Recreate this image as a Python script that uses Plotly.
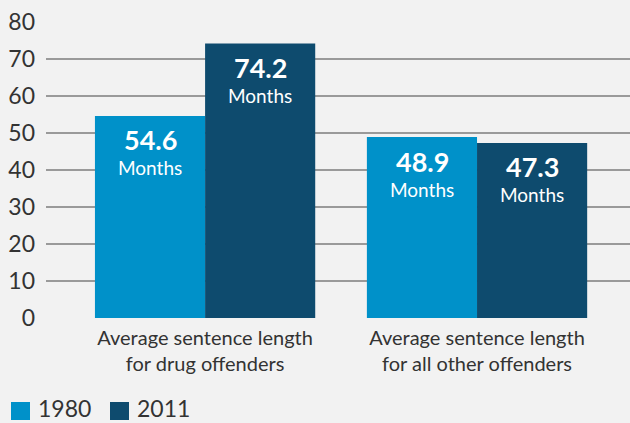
import plotly.graph_objects as go

categories = ["Average sentence length<br>for drug offenders",
              "Average sentence length<br>for all other offenders"]
years = ["1980", "2011"]
values_1980 = [54.6, 48.9]
values_2011 = [74.2, 47.3]
y_ticks = [0, 10, 20, 30, 40, 50, 60, 70, 80]

colors = {"1980": "#0091c9", "2011": "#0e4b6e"}
series = {"1980": values_1980, "2011": values_2011}

W, H = 630, 423
ML, MR, MT, MB = 46, 0, 22, 105
PW, PH = W - ML - MR, H - MT - MB


def px_x(p):
    return (p - ML) / PW


def px_y(p):
    return (H - MB - p) / PH


fig = go.Figure()
for yr in years:
    fig.add_trace(go.Bar(x=categories, y=series[yr], marker_color=colors[yr],
                         marker_line_width=0, showlegend=False, name=yr))

font_main = "Lato, 'Open Sans', sans-serif"
half_bar = 55
for i, yr in enumerate(years):
    shift = -half_bar if i == 0 else half_bar
    for cat, v in zip(categories, series[yr]):
        fig.add_annotation(x=cat, y=v, xref="x", yref="y", text=f"<b>{v}</b>",
                           showarrow=False, xshift=shift, yshift=-24, yanchor="middle",
                           borderpad=0,
                           font=dict(family=font_main, size=27, color="white"))
        fig.add_annotation(x=cat, y=v, xref="x", yref="y", text="Months",
                           showarrow=False, xshift=shift, yshift=-52, yanchor="middle",
                           borderpad=0,
                           font=dict(family=font_main, size=19, color="white"))

# legend (drawn manually for larger swatches)
legend_pos = {"1980": 11, "2011": 110}
for yr in years:
    x0 = legend_pos[yr]
    fig.add_shape(type="rect", xref="paper", yref="paper",
                  x0=px_x(x0), x1=px_x(x0 + 19), y0=px_y(420), y1=px_y(402),
                  fillcolor=colors[yr], line_width=0)
    fig.add_annotation(xref="paper", yref="paper", x=px_x(x0 + 26), y=px_y(423),
                       xanchor="left", yanchor="bottom", showarrow=False, text=yr,
                       borderpad=0,
                       font=dict(family=font_main, size=23, color="#333333"))

fig.update_layout(
    width=W, height=H,
    barmode="group", bargap=0.19, bargroupgap=0,
    paper_bgcolor="#f2f2f2", plot_bgcolor="#f2f2f2",
    margin=dict(l=ML, r=MR, t=MT, b=MB),
    font=dict(family=font_main, color="#333333"),
    showlegend=False,
    xaxis=dict(range=[-0.585, 1.5625], showgrid=False, zeroline=False, showline=False,
               ticks="", tickfont=dict(size=20, color="#333333"), ticklabelstandoff=6),
    yaxis=dict(range=[0, 80], tickvals=y_ticks, showgrid=True, gridcolor="#9a9a9a",
               gridwidth=1.5, zeroline=False, showline=False, ticks="",
               tickfont=dict(size=23, color="#333333"), ticklabelstandoff=10),
)

fig.write_html("out.html", config={"displayModeBar": False},
               post_script="document.body.style.margin='0';")
